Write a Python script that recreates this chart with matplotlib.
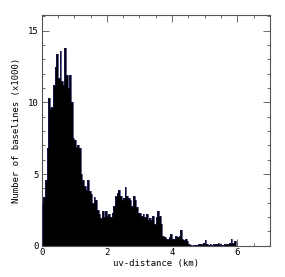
import numpy as np
import matplotlib

matplotlib.use("Agg")
import matplotlib.pyplot as plt
from matplotlib.ticker import MultipleLocator

# histogram of baseline lengths, 0.05 km bins, counts in units of 1000
bin_width = 0.05
bin_left = np.arange(0.0, 6.0, bin_width)
counts = [
    3.0, 3.4, 4.6, 6.8, 10.3, 9.6, 9.7, 11.2, 12.5, 13.4,
    11.7, 13.6, 11.5, 11.2, 13.8, 11.9, 11.0, 11.9, 10.0, 7.5,
    7.4, 6.9, 7.0, 6.8, 5.0, 4.6, 4.2, 3.9, 4.6, 3.8,
    3.6, 3.0, 3.4, 3.2, 2.5, 2.2, 1.9, 2.4, 2.0, 2.4,
    2.1, 2.2, 2.0, 2.3, 2.8, 3.5, 3.7, 3.9, 3.5, 3.2,
    3.3, 4.1, 3.5, 3.3, 3.2, 2.8, 3.5, 3.2, 2.7, 2.3,
    2.3, 2.1, 2.2, 2.0, 2.2, 1.8, 1.9, 1.8, 2.1, 1.5,
    2.0, 2.4, 2.1, 1.5, 0.7, 0.6, 0.5, 0.5, 0.6, 0.8,
    0.5, 0.5, 0.7, 0.6, 0.7, 1.1, 0.5, 0.4, 0.5, 0.3,
    0.1, 0.05, 0.0, 0.05, 0.05, 0.05, 0.1, 0.1, 0.1, 0.2,
    0.4, 0.1, 0.05, 0.1, 0.05, 0.1, 0.1, 0.1, 0.2, 0.1,
    0.05, 0.05, 0.1, 0.1, 0.1, 0.2, 0.5, 0.2, 0.3, 0.0,
]

FONT = "DejaVu Sans Mono"
EDGE = "#555555"

fig = plt.figure(figsize=(2.85, 2.77), dpi=100)
ax = fig.add_axes([0.146, 0.113, 0.801, 0.833])

ax.bar(bin_left, counts, width=bin_width, align="edge", color="black",
       linewidth=0, zorder=2)
ax.stairs(counts, np.append(bin_left, 6.0), color="#1c1c5e", lw=0.5, zorder=3)
ax.axhline(0, xmin=0, xmax=6.0 / 7.0, color="#2b2bcc", lw=0.8, zorder=4)

ax.set_xlim(0, 7)
ax.set_ylim(0, 16.1)
ax.xaxis.set_major_locator(MultipleLocator(2))
ax.xaxis.set_minor_locator(MultipleLocator(0.5))
ax.yaxis.set_major_locator(MultipleLocator(5))
ax.yaxis.set_minor_locator(MultipleLocator(1))
ax.tick_params(which="both", direction="in", top=True, right=True,
               color=EDGE, width=0.6, labelsize=6.5, pad=2)
ax.tick_params(which="major", length=5)
ax.tick_params(which="minor", length=2.5)
for lab in ax.get_xticklabels() + ax.get_yticklabels():
    lab.set_fontfamily(FONT)
for s in ax.spines.values():
    s.set_color(EDGE)
    s.set_linewidth(0.8)

ax.set_xlabel("uv-distance (km)", fontsize=6.5, family=FONT, labelpad=1)
ax.set_ylabel("Number of baselines (x1000)", fontsize=6.5, family=FONT, labelpad=5)

fig.savefig("out.png", dpi=100)
